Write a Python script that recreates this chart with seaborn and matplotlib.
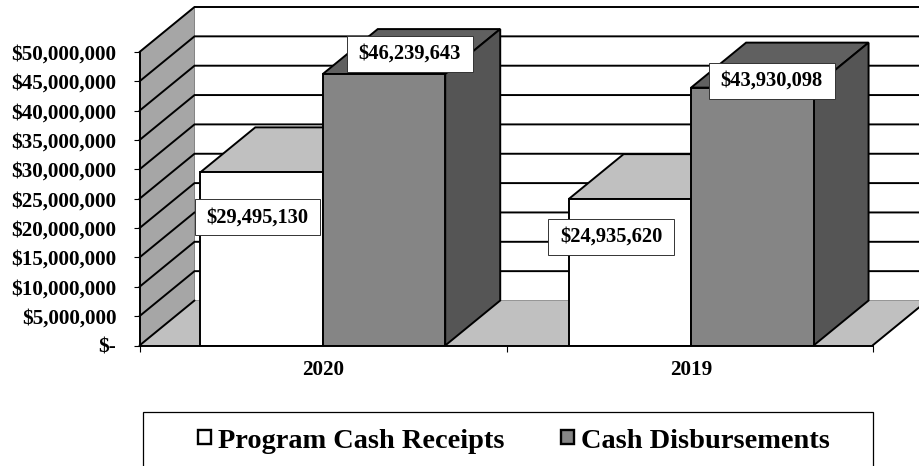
import matplotlib
matplotlib.use("Agg")
import matplotlib.pyplot as plt
from matplotlib.patches import Polygon, Rectangle
from matplotlib.path import Path
from matplotlib.ticker import FuncFormatter
import pandas as pd
import seaborn as sns

years = ["2020", "2019"]
series_names = ["Program Cash Receipts", "Cash Disbursements"]
receipts = [29495130, 24935620]
disbursements = [46239643, 43930098]
tick_values = list(range(0, 50000001, 5000000))

W, H = 919, 466
LEFT, RIGHT, BOTTOM, TOP = 139.5, 872.5, 345.5, 52.0
YMAX = 50000000
x0, x1 = -0.4975, 1.4925
DX = 55 / ((RIGHT - LEFT) / (x1 - x0))       # depth, category units
DY = 45 / ((BOTTOM - TOP) / YMAX)            # depth, value units
FRONT = {"Program Cash Receipts": "#ffffff", "Cash Disbursements": "#858585"}
TOPC = {"Program Cash Receipts": "#c0c0c0", "Cash Disbursements": "#606060"}
SIDEC = {"Program Cash Receipts": "#a0a0a0", "Cash Disbursements": "#555555"}
LW = 1.4

sns.set_style("white")
plt.rcParams["font.family"] = ["Liberation Serif", "DejaVu Serif"]
plt.rcParams["font.weight"] = "bold"
plt.rcParams["text.color"] = "black"
plt.rcParams["xtick.labelcolor"] = "black"
plt.rcParams["ytick.labelcolor"] = "black"

df = pd.DataFrame({
    "year": years * 2,
    "series": [series_names[0]] * 2 + [series_names[1]] * 2,
    "value": receipts + disbursements,
})

fig = plt.figure(figsize=(W / 100, H / 100), dpi=100, facecolor="white")
ax = fig.add_axes([LEFT / W, 1 - BOTTOM / H, (RIGHT - LEFT) / W, (BOTTOM - TOP) / H])
ax.patch.set_alpha(0)

sns.barplot(data=df, x="year", y="value", hue="series", hue_order=series_names,
            order=years, palette=FRONT, saturation=1, width=0.665, gap=0,
            edgecolor="black", linewidth=LW, ax=ax)
ax.set_xlim(x0, x1)
ax.set_ylim(0, YMAX)
ax.set_xlabel("")
ax.set_ylabel("")


def poly(points, face, edge="none", lw=0.0, z=1):
    ax.add_patch(Polygon(points, closed=True, facecolor=face, edgecolor=edge,
                         linewidth=lw, zorder=z, clip_on=False, joinstyle="miter"))


# side wall and floor
poly([(x0, 0), (x0 + DX, DY), (x0 + DX, YMAX + DY), (x0, YMAX)], "#a6a6a6", "#777777", 0.6, 1)
poly([(x0, 0), (x1, 0), (x1 + DX, DY), (x0 + DX, DY)], "#c0c0c0", "#888888", 0.6, 1.1)
# gridlines along wall and back
for v in tick_values[1:]:
    ax.plot([x0, x0 + DX, x1 + DX], [v, v + DY, v + DY], color="black", lw=LW,
            zorder=1.2, clip_on=False, solid_joinstyle="miter")
ax.plot([x0, x0 + DX], [0, DY], color="black", lw=LW, zorder=1.3, clip_on=False)
ax.plot([x1, x1 + DX], [0, DY], color="black", lw=LW, zorder=1.3, clip_on=False)

# bar depth faces, built from the bars seaborn drew
for i, (name, container) in enumerate(zip(series_names, ax.containers)):
    base = 3 + 2 * i
    for bar in container:
        bx, bw, bh = bar.get_x(), bar.get_width(), bar.get_height()
        bar.set_zorder(base + 1)
        poly([(bx, bh), (bx + bw, bh), (bx + bw + DX, bh + DY), (bx + DX, bh + DY)],
             TOPC[name], "black", LW, base)
        poly([(bx + bw, 0), (bx + bw + DX, DY), (bx + bw + DX, bh + DY), (bx + bw, bh)],
             SIDEC[name], "black", LW, base)


def label_box(x, y, w, h, mutation_size):
    px, py = 0.58 * mutation_size, 0.39 * mutation_size
    return Path([(x - px, y - py), (x + w + px, y - py), (x + w + px, y + h + py),
                 (x - px, y + h + py), (x - px, y - py)], closed=True)


# data labels
label_offsets = {("Program Cash Receipts", 0): (-4, -45), ("Cash Disbursements", 0): (26, 20),
                 ("Program Cash Receipts", 1): (-18.5, -37.5), ("Cash Disbursements", 1): (19.5, 7)}
for i, (name, container) in enumerate(zip(series_names, ax.containers)):
    for j, bar in enumerate(container):
        ax.annotate(f"${int(bar.get_height()):,}",
                    (bar.get_x() + bar.get_width() / 2, bar.get_height()),
                    xytext=label_offsets[(name, j)], textcoords="offset pixels",
                    ha="center", va="center", fontsize=14.8, color="black", zorder=20,
                    bbox=dict(boxstyle=label_box, fc="white", ec="#333333", lw=0.7))

# axes
for s in ("top", "right"):
    ax.spines[s].set_visible(False)
for s in ("left", "bottom"):
    ax.spines[s].set_visible(True)
    ax.spines[s].set_linewidth(LW)
    ax.spines[s].set_color("black")
    ax.spines[s].set_zorder(15)
ax.set_yticks(tick_values)
ax.yaxis.set_major_formatter(FuncFormatter(lambda v, _: "$-" if v == 0 else f"${int(v):,}"))
ax.set_xticks([0, 1], years)
ax.set_xticks([x0, 0.5, x1], minor=True)
ax.tick_params(axis="y", which="major", left=True, length=4, width=0.8, color="black",
               pad=12.7, labelsize=15.2, labelcolor="black")
ax.tick_params(axis="x", which="major", bottom=False, length=0, pad=10.5, labelsize=15.2,
               labelcolor="black")
ax.tick_params(axis="x", which="minor", bottom=True, length=4, width=0.8, color="black")

# legend in its frame, whose lower edge runs off the picture
fig.add_artist(Rectangle((143 / W, 1 - 475 / H), 730 / W, 63 / H, transform=fig.transFigure,
                         facecolor="none", edgecolor="black", linewidth=0.9))
sns.move_legend(ax, "center", bbox_to_anchor=(514 / W, 1 - 441 / H),
                bbox_transform=fig.transFigure, ncols=2, frameon=False, title=None,
                fontsize=20.4, handlelength=0.47, handleheight=0.38, handletextpad=0.24,
                columnspacing=2.0, borderpad=0, labelcolor="black")
for handle in ax.get_legend().get_patches():
    handle.set_linewidth(1.7)

fig.savefig("out.png", dpi=100, facecolor="white")
